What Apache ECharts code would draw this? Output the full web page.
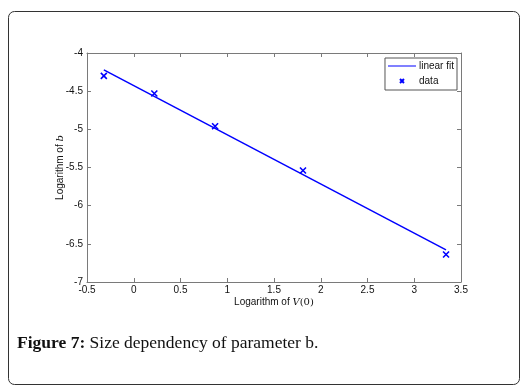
<!DOCTYPE html>
<html>
<head>
<meta charset="utf-8">
<script src="https://cdn.jsdelivr.net/npm/echarts@6/dist/echarts.min.js"></script>
<style>
  html, body { margin: 0; padding: 0; background: #fff; }
  #chart { width: 528px; height: 391px; }
</style>
</head>
<body>
<div id="chart"></div>
<script>
  // measured points (log V(0), log b)
  var dataX = [-0.32, 0.22, 0.87, 1.81, 3.34];
  var dataY = [-4.30, -4.53, -4.96, -5.54, -6.64];
  // linear fit end points
  var fitX = [-0.32, 3.34];
  var fitY = [-4.22, -6.58];

  var xTicks = [-0.5, 0, 0.5, 1, 1.5, 2, 2.5, 3, 3.5];
  var yTicks = [-4, -4.5, -5, -5.5, -6, -6.5, -7];

  var pts = [];
  for (var i = 0; i < dataX.length; i++) pts.push([dataX[i], dataY[i]]);
  var fit = [];
  for (var j = 0; j < fitX.length; j++) fit.push([fitX[j], fitY[j]]);

  var axisCol = '#7a7a7a';
  var lblFont = 'Liberation Sans';

  var chart = echarts.init(document.getElementById('chart'));
  var option = {
    animation: false,
    backgroundColor: '#fff',
    grid: { left: 87, right: 67, top: 53, bottom: 109 },
    legend: {
      orient: 'vertical',
      right: 71, top: 58,
      padding: [3, 3, 3, 2],
      itemGap: 4,
      itemWidth: 28, itemHeight: 10,
      borderColor: '#555', borderWidth: 1,
      backgroundColor: '#fff',
      textStyle: { fontFamily: lblFont, fontSize: 10, color: '#111', padding: [0, 0, 0, -2] },
      data: [
        { name: 'linear fit', icon: 'path://M0,5L28,5L28,6L0,6Z' },
        { name: 'data', icon: 'path://M0,0L0,0M12,3L16,7M16,3L12,7M28,10L28,10' }
      ]
    },
    xAxis: [{
      type: 'value', min: -0.5, max: 3.5, interval: 0.5,
      position: 'bottom',
      name: '{n|Logarithm of }{v|V}{p|(0)}',
      nameLocation: 'middle', nameGap: 15, nameMoveOverlap: false,
      nameTextStyle: {
        rich: {
          n: { fontFamily: lblFont, fontSize: 10, color: '#111' },
          v: { fontFamily: 'DejaVu Serif', fontStyle: 'italic', fontSize: 10, color: '#111' },
          p: { fontFamily: 'DejaVu Serif', fontSize: 10, color: '#111' }
        }
      },
      axisLine: { onZero: false, lineStyle: { color: axisCol } },
      axisTick: { inside: true, length: 4, lineStyle: { color: axisCol } },
      axisLabel: { fontFamily: lblFont, fontSize: 10, color: '#111', margin: 3,
        formatter: function (v) { return xTicks.indexOf(v) >= 0 ? String(v) : ''; } },
      splitLine: { show: false }
    }, {
      type: 'value', min: -0.5, max: 3.5, interval: 0.5,
      position: 'top',
      axisLine: { onZero: false, lineStyle: { color: axisCol } },
      axisTick: { inside: true, length: 4, lineStyle: { color: axisCol } },
      axisLabel: { show: false },
      splitLine: { show: false }
    }],
    yAxis: [{
      type: 'value', min: -7, max: -4, interval: 0.5,
      position: 'left',
      name: '{n|Logarithm of }{v|b}',
      nameLocation: 'middle', nameGap: 22, nameRotate: 90, nameMoveOverlap: false,
      nameTextStyle: {
        rich: {
          n: { fontFamily: lblFont, fontSize: 10, color: '#111' },
          v: { fontFamily: 'DejaVu Serif', fontStyle: 'italic', fontSize: 10, color: '#111' }
        }
      },
      axisLine: { onZero: false, lineStyle: { color: axisCol } },
      axisTick: { inside: true, length: 4, lineStyle: { color: axisCol } },
      axisLabel: { fontFamily: lblFont, fontSize: 10, color: '#111', margin: 4,
        formatter: function (v) { return yTicks.indexOf(v) >= 0 ? String(v) : ''; } },
      splitLine: { show: false }
    }, {
      type: 'value', min: -7, max: -4, interval: 0.5,
      position: 'right',
      axisLine: { onZero: false, lineStyle: { color: axisCol } },
      axisTick: { inside: true, length: 4, lineStyle: { color: axisCol } },
      axisLabel: { show: false },
      splitLine: { show: false }
    }],
    series: [{
      name: 'linear fit',
      type: 'line',
      data: fit,
      showSymbol: false,
      symbol: 'none',
      lineStyle: { color: '#0000ff', width: 1.5 },
      itemStyle: { color: '#0000ff' },
      z: 3
    }, {
      name: 'data',
      type: 'scatter',
      data: pts,
      symbol: 'path://M0,0L10,10M10,0L0,10',
      symbolSize: 6,
      itemStyle: { color: 'rgba(0,0,0,0)', borderColor: '#0000ff', borderWidth: 1.6, opacity: 1 },
      z: 4
    }],
    graphic: [{
      type: 'rect',
      shape: { x: 8.5, y: 11.5, width: 511, height: 373, r: 6 },
      style: { fill: 'none', stroke: '#333', lineWidth: 1 },
      silent: true
    }, {
      type: 'text',
      left: 17, top: 334,
      style: {
        text: '{b|Figure 7:} Size dependency of parameter b.',
        font: '17.5px "Liberation Serif"',
        fill: '#111',
        rich: {
          b: { fontFamily: 'Liberation Serif', fontWeight: 'bold', fontSize: 17.5, fill: '#111' }
        }
      }
    }]
  };
  chart.setOption(option);
</script>
</body>
</html>
